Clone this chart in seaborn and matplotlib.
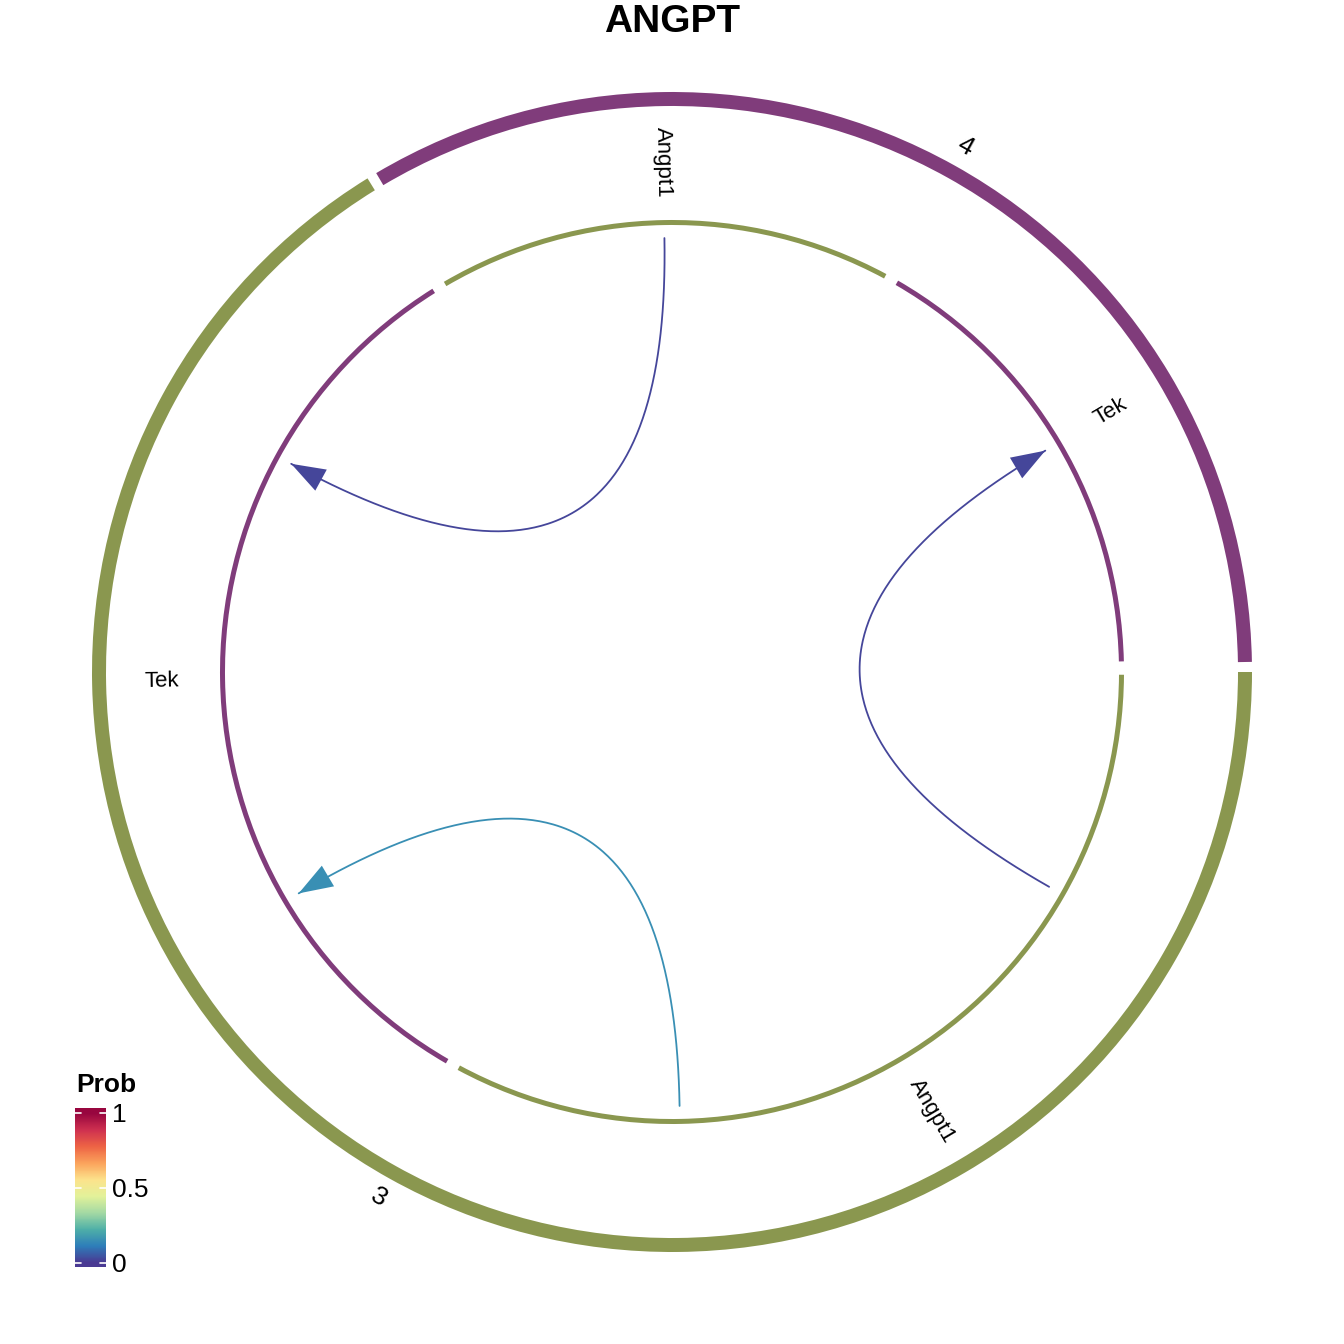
import numpy as np
import pandas as pd
import matplotlib
matplotlib.use("Agg")
import matplotlib.pyplot as plt
from matplotlib.patches import Wedge, Polygon
import seaborn as sns

# ---------------- data ----------------
groups = ["4", "3"]
group_colors = ["#803C7B", "#8A974F"]
genes = ["Tek", "Angpt1", "Tek", "Angpt1"]          # gene segments, in ring order
gene_group = ["4", "4", "3", "3"]
gene_colors = ["#803C7B", "#8A974F", "#803C7B", "#8A974F"]
gene_units = [1, 1, 2, 2]                             # link ends per segment
# links: source segment/slot -> target segment/slot, with probability
link_src_seg = [1, 3, 3]
link_src_slot = [0, 1, 0]
link_tgt_seg = [2, 0, 2]
link_tgt_slot = [0, 0, 1]
link_prob = [0.02, 0.02, 0.15]
title = "ANGPT"
legend_title = "Prob"
legend_ticks = [0, 0.5, 1]
legend_ticklabels = ["0", "0.5", "1"]
prob_palette = ["#4A3A93", "#2E7EBA", "#4FB0A8", "#A5DAA4", "#E3F29A",
                "#FDE38C", "#FBA35C", "#EE6445", "#CF3150", "#98063F"]

# ---------------- style ----------------
sns.set_theme(style="white")
plt.rcParams["font.family"] = ["Liberation Sans", "DejaVu Sans"]
plt.rcParams["text.color"] = "black"
cmap = sns.blend_palette(prob_palette, as_cmap=True)

W = 1344
fig = plt.figure(figsize=(W / 100, W / 100), dpi=100)
ax = fig.add_axes([0, 0, 1, 1])
ax.set_xlim(-W / 2, W / 2)
ax.set_ylim(-W / 2, W / 2)
ax.set_aspect("equal")
ax.axis("off")

gap = 1.0
start = 1.0
unit = (360 - gap * len(genes)) / sum(gene_units)
seg_start, seg_end = [], []
a = start
for u in gene_units:
    seg_start.append(a)
    seg_end.append(a + u * unit)
    a = a + u * unit + gap

R_outer, W_outer = 580, 14
R_inner, W_inner = 452, 5
R_link = 434
R_gene_lab = 510
R_grp_lab = 602

# outer group ring
for g, col in zip(groups, group_colors):
    idx = [i for i, gg in enumerate(gene_group) if gg == g]
    t1 = seg_start[idx[0]]
    t2 = seg_end[idx[-1]]
    ax.add_patch(Wedge((0, 0), R_outer, t1, t2, width=W_outer, color=col, lw=0))
    mid = (t1 + t2) / 2
    rad = np.deg2rad(mid)
    rot = mid - 90 if mid <= 180 else mid + 90
    ax.text(R_grp_lab * np.cos(rad), R_grp_lab * np.sin(rad), g, rotation=rot,
            rotation_mode="anchor", ha="center", va="center", fontsize=19, color="black")

# inner gene ring + labels
for i, (gname, col) in enumerate(zip(genes, gene_colors)):
    t1, t2 = seg_start[i] + 0.35, seg_end[i] - 0.35
    ax.add_patch(Wedge((0, 0), R_inner, t1, t2, width=W_inner, color=col, lw=0))
    mid = (seg_start[i] + seg_end[i]) / 2
    rad = np.deg2rad(mid)
    rot = mid if np.cos(rad) >= 0 else mid - 180
    ax.text(R_gene_lab * np.cos(rad), R_gene_lab * np.sin(rad), gname, rotation=rot,
            rotation_mode="anchor", ha="center", va="center", fontsize=16, color="black")

# links
t = np.linspace(0, 1, 200)
for s, ss, tg, ts, p in zip(link_src_seg, link_src_slot, link_tgt_seg, link_tgt_slot, link_prob):
    a0 = np.deg2rad(seg_start[s] + (ss + 0.5) * unit)
    a1 = np.deg2rad(seg_start[tg] + (ts + 0.5) * unit)
    P0 = np.array([R_link * np.cos(a0), R_link * np.sin(a0)])
    P2 = np.array([R_link * np.cos(a1), R_link * np.sin(a1)])
    C = np.array([0.0, 0.0])
    pts = ((1 - t) ** 2)[:, None] * P0 + (2 * (1 - t) * t)[:, None] * C + (t ** 2)[:, None] * P2
    col = cmap(p)
    df = pd.DataFrame({"x": pts[:, 0], "y": pts[:, 1]})
    sns.lineplot(data=df, x="x", y="y", sort=False, estimator=None, color=col,
                 lw=1.3, ax=ax, legend=False)
    d = (C - P2) / np.linalg.norm(C - P2)
    perp = np.array([-d[1], d[0]])
    base = P2 + d * 34
    tri = np.array([P2, base + perp * 12, base - perp * 12])
    ax.add_patch(Polygon(tri, closed=True, color=col, lw=0))

ax.set_xlabel("")
ax.set_ylabel("")

# title
fig.text(0.5, 1 - 22 / W, title, ha="center", va="center", fontsize=28,
         fontweight="bold", color="black")

# colorbar legend
cb_left, cb_w = 75 / W, 31 / W
cb_bot, cb_h = (W - 1267) / W, 159 / W
cax = fig.add_axes([cb_left, cb_bot, cb_w, cb_h])
lo, hi = -0.027, 1.033
grad = np.linspace(lo, hi, 256)[:, None]
cax.imshow(grad, aspect="auto", cmap=cmap, origin="lower", extent=[0, 1, lo, hi], vmin=0, vmax=1)
cax.set_xlim(0, 1)
cax.set_ylim(lo, hi)
for v in legend_ticks:
    cax.plot([0, 0.2], [v, v], color="white", lw=1.2)
    cax.plot([0.8, 1], [v, v], color="white", lw=1.2)
cax.set_xticks([])
cax.yaxis.tick_right()
cax.set_yticks(legend_ticks)
cax.set_yticklabels(legend_ticklabels, fontsize=19, color="black")
cax.tick_params(axis="y", length=0, pad=4)
for sp in cax.spines.values():
    sp.set_visible(False)
fig.text(76 / W, 1 - 1085 / W, legend_title, ha="left", va="center", fontsize=19,
         fontweight="bold", color="black")

fig.savefig("out.png", dpi=100)
